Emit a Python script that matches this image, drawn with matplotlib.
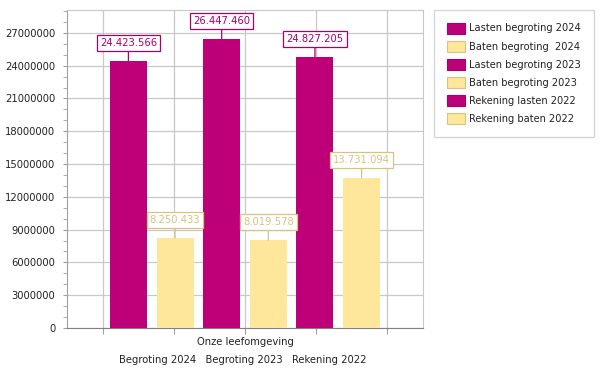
import matplotlib
matplotlib.use("Agg")
import matplotlib.pyplot as plt
from matplotlib.patches import Patch
from matplotlib.ticker import MultipleLocator, FuncFormatter

category = "Onze leefomgeving"
sub_labels = ["Begroting 2024", "Begroting 2023", "Rekening 2022"]
series_names = ["Lasten begroting 2024", "Baten begroting  2024", "Lasten begroting 2023",
                "Baten begroting 2023", "Rekening lasten 2022", "Rekening baten 2022"]
values = [24423566, 8250433, 26447460, 8019578, 24827205, 13731094]
value_labels = ["24.423.566", "8.250.433", "26.447.460", "8.019.578", "24.827.205", "13.731.094"]

MAG = "#BE0078"
YEL = "#FEE69B"
MAG_TXT = "#A8006A"
YEL_TXT = "#D9C281"
colors = [MAG, YEL, MAG, YEL, MAG, YEL]
txt_colors = [MAG_TXT, YEL_TXT, MAG_TXT, YEL_TXT, MAG_TXT, YEL_TXT]

W, H = 602, 374
fig = plt.figure(figsize=(W / 100, H / 100), dpi=100)
plt.rcParams['font.family'] = ['DejaVu Sans']

ax = fig.add_axes([67 / W, (H - 328) / H, 356 / W, 318 / H])
ax.set_xlim(0, 5)
ax.set_ylim(0, max(values) * 1.1)

spacing = 0.655
bw = 0.52
center = 2.5
for i, (v, c) in enumerate(zip(values, colors)):
    x = center + (i - 2.5) * spacing
    ax.bar(x, v, width=bw, color=c, zorder=3)
    ax.annotate(value_labels[i], xy=(x, v), xytext=(0, 13), textcoords="offset points",
                ha="center", va="center", fontsize=7.2, color=txt_colors[i],
                bbox=dict(boxstyle="square,pad=0.3", fc="white", ec=txt_colors[i], lw=0.9),
                arrowprops=dict(arrowstyle="-", color=txt_colors[i], lw=0.9, shrinkA=0, shrinkB=0),
                zorder=5)

ax.yaxis.set_major_locator(MultipleLocator(3000000))
ax.yaxis.set_minor_locator(MultipleLocator(1000000))
ax.yaxis.set_major_formatter(FuncFormatter(lambda v, p: f"{int(round(v))}"))
ax.set_xticks([0.5, 1.5, 2.5, 3.5, 4.5])
ax.set_xticklabels([])
ax.grid(True, which="major", color="#C8C8C8", lw=0.9, zorder=0)
ax.tick_params(axis="y", which="major", length=3, color="#A0A0A0", labelsize=7.2, labelcolor="#222222", pad=5.5)
ax.tick_params(axis="y", which="minor", length=3, color="#A0A0A0")
ax.tick_params(axis="x", which="major", length=4, color="#A0A0A0", direction="out")
for s in ["top", "right"]:
    ax.spines[s].set_color("#C8C8C8")
ax.spines["left"].set_color("#A0A0A0")
ax.spines["bottom"].set_color("#808080")

fig.text(245 / W, 1 - 342 / H, category, ha="center", va="center", fontsize=7.2, color="#222222")
fig.text(243 / W, 1 - 360 / H, "   ".join(sub_labels), ha="center", va="center", fontsize=7.2, color="#222222")

handles = [Patch(facecolor=c, edgecolor=("#D9C281" if c == YEL else "#A8006A"), lw=0.8) for c in colors]
leg = fig.legend(handles, series_names, loc="upper left", bbox_to_anchor=(434 / W, 1 - 10 / H),
                 borderaxespad=0, fontsize=7.1, frameon=True, fancybox=False, edgecolor="#C8C8C8",
                 handlelength=1.8, handleheight=1.3, handletextpad=0.5, labelspacing=0.74,
                 borderpad=1.3, labelcolor="#222222")
leg.get_frame().set_linewidth(0.9)

fig.savefig("out.png", dpi=100)
